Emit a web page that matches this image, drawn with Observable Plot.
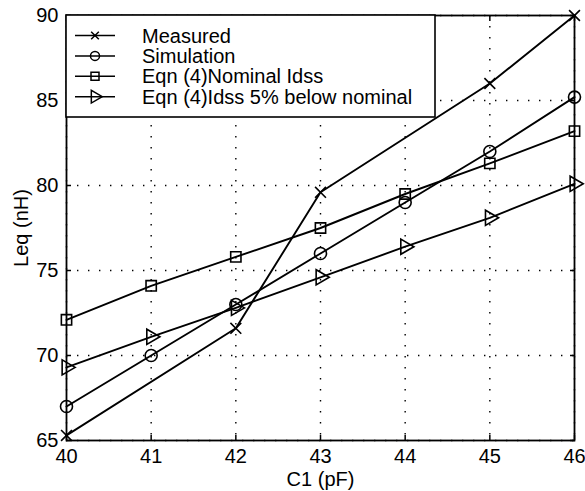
<!DOCTYPE html>
<html><head><meta charset="utf-8">
<script src="https://cdn.jsdelivr.net/npm/d3@7"></script>
<script src="https://cdn.jsdelivr.net/npm/@observablehq/plot@0.6"></script>
<style>
body{margin:0;background:#fff;}
#chart{position:relative;width:585px;height:491px;}
#legend{position:absolute;left:0;top:0;pointer-events:none;}
</style>
</head><body><div id="chart"></div>
<script>
// ---- data ----
const c1 = [40, 41, 42, 43, 44, 45, 46];
const measuredC1 = [40, 42, 43, 45, 46];
const measured = [65.3, 71.6, 79.6, 86.0, 90.0];
const simulation = [67.0, 70.0, 73.0, 76.0, 79.0, 82.0, 85.2];
const nominal = [72.1, 74.1, 75.8, 77.5, 79.5, 81.3, 83.2];
const below5 = [69.3, 71.1, 72.8, 74.6, 76.4, 78.1, 80.1];
const xTicks = [40, 41, 42, 43, 44, 45, 46];
const yTicks = [65, 70, 75, 80, 85, 90];
const seriesNames = ["Measured", "Simulation", "Eqn (4)Nominal Idss", "Eqn (4)Idss 5% below nominal"];

const W = 585, H = 491;
const M = {left: 66, right: 11, top: 15, bottom: 51};

const mRows = measuredC1.map((x, i) => ({x, y: measured[i]}));
const sRows = c1.map((x, i) => ({x, y: simulation[i]}));
const nRows = c1.map((x, i) => ({x, y: nominal[i]}));
const bRows = c1.map((x, i) => ({x, y: below5[i]}));

const grid = {stroke: "black", strokeOpacity: 1, strokeWidth: 1.4, strokeDasharray: "1.4,9.6"};
const lineOpt = {x: "x", y: "y", stroke: "black", strokeWidth: 1.9};
const dotOpt = {x: "x", y: "y", stroke: "black", fill: "none", strokeWidth: 1.6};

const plot = Plot.plot({
  width: W, height: H,
  marginLeft: M.left, marginRight: M.right, marginTop: M.top, marginBottom: M.bottom,
  style: {fontFamily: "'Liberation Sans', Arial, sans-serif", fontSize: "20px", color: "black", background: "white"},
  x: {domain: [40, 46]},
  y: {domain: [65, 90]},
  marks: [
    Plot.gridX(xTicks, grid),
    Plot.gridY(yTicks, grid),
    Plot.line(mRows, lineOpt),
    Plot.line(sRows, lineOpt),
    Plot.line(nRows, lineOpt),
    Plot.line(bRows, lineOpt),
    Plot.dot(mRows, {...dotOpt, symbol: "times", r: 5}),
    Plot.dot(sRows, {...dotOpt, symbol: "circle", r: 6}),
    Plot.dot(nRows, {...dotOpt, symbol: "square", r: 5.8}),
    Plot.dot(bRows, {...dotOpt, symbol: "triangle", r: 5.6, rotate: 90}),
    Plot.frame({stroke: "black", strokeWidth: 1.8}),
    Plot.axisX(xTicks, {anchor: "bottom", tickSize: -5, tickPadding: 13, strokeWidth: 1.5, fontSize: 20,
      label: "C1 (pF)", labelAnchor: "center", labelOffset: 45, labelArrow: "none"}),
    Plot.axisX(xTicks, {anchor: "top", tickSize: -5, strokeWidth: 1.5, tickFormat: () => "", label: null}),
    Plot.axisY(yTicks, {anchor: "left", tickSize: -5, tickPadding: 13, strokeWidth: 1.5, fontSize: 20,
      label: "Leq (nH)", labelAnchor: "center", labelOffset: 53, labelArrow: "none"}),
    Plot.axisY(yTicks, {anchor: "right", tickSize: -5, strokeWidth: 1.5, tickFormat: () => "", label: null})
  ]
});
document.getElementById("chart").appendChild(plot);

// ---- legend overlay ----
const svg = d3.select("#chart").append("svg").attr("id", "legend")
  .attr("width", W).attr("height", H)
  .style("font-family", "'Liberation Sans', Arial, sans-serif").style("font-size", "20px");
const bx = M.left, by = M.top, bw = 369, bh = 102;
svg.append("rect").attr("x", bx).attr("y", by).attr("width", bw).attr("height", bh)
  .attr("fill", "white").attr("stroke", "black").attr("stroke-width", 1.6);
const syms = [
  {t: d3.symbolTimes, s: 40, rot: 0},
  {t: d3.symbolCircle, s: 64, rot: 0},
  {t: d3.symbolSquare, s: 64, rot: 0},
  {t: d3.symbolTriangle, s: 70, rot: 90}
];
seriesNames.forEach((name, i) => {
  const yy = by + 20.5 + i * 20.4;
  const g = svg.append("g");
  g.append("line").attr("x1", bx + 9).attr("x2", bx + 49).attr("y1", yy).attr("y2", yy)
    .attr("stroke", "black").attr("stroke-width", 1.5);
  g.append("path").attr("d", d3.symbol(syms[i].t, syms[i].s)())
    .attr("transform", `translate(${bx + 29},${yy}) rotate(${syms[i].rot})`)
    .attr("fill", "none").attr("stroke", "black").attr("stroke-width", 1.5);
  g.append("text").attr("x", bx + 76).attr("y", yy + 7).text(name);
});
</script>
</body></html>
